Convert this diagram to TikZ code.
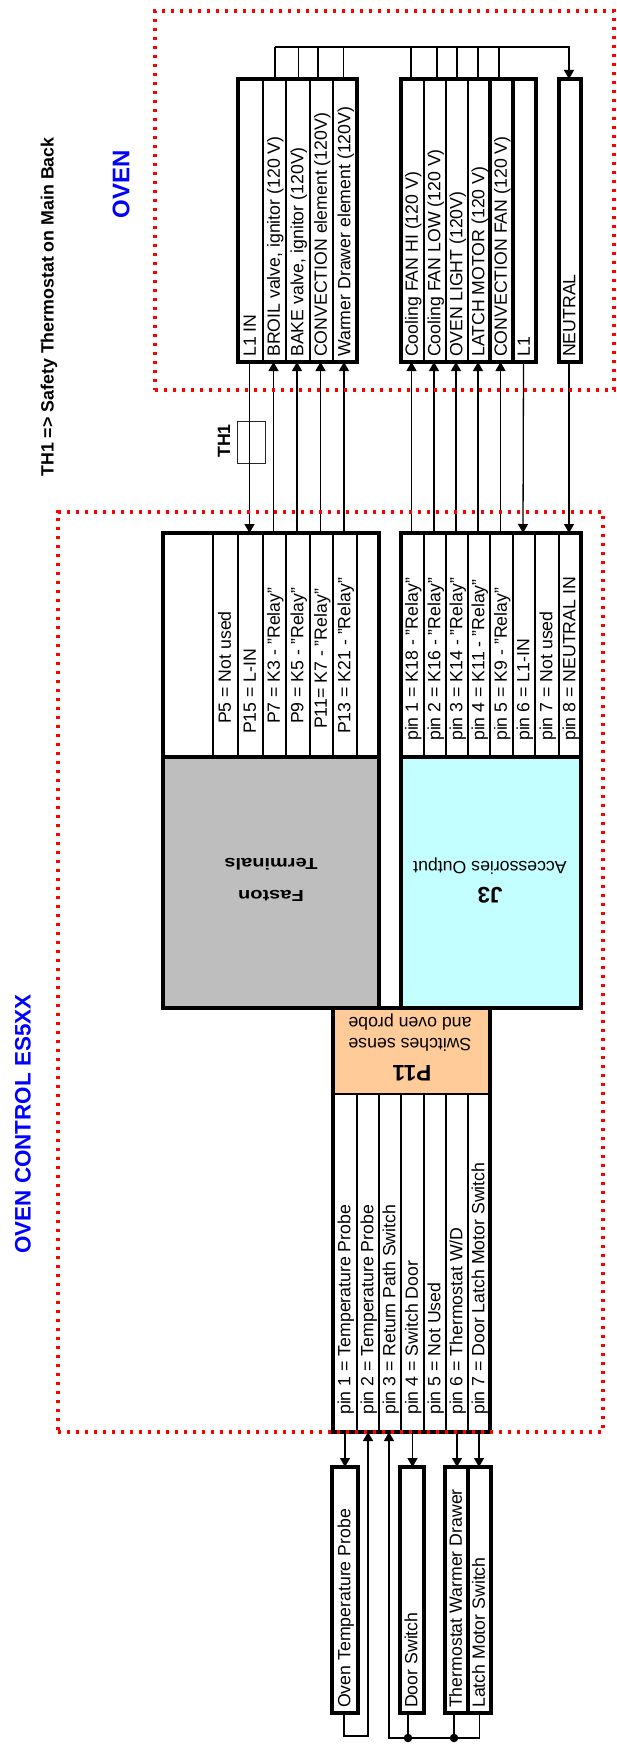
\documentclass[tikz,border=0pt]{standalone}
\usepackage{fontspec}
\setmainfont{Liberation Sans}
\usetikzlibrary{fit,arrows.meta}
\definecolor{fastgray}{HTML}{BEBEBE}
\definecolor{jcyan}{HTML}{C4FFFF}
\definecolor{porange}{HTML}{FFCC99}
\tikzset{
	cell/.style={draw=black,line width=1.5pt,inner sep=0pt,outer sep=0pt},
	frame/.style={draw=black,line width=3.6pt,inner sep=0pt,outer sep=0pt},
	celltext/.style={rotate=90,anchor=west,inner sep=0pt,text height=12.7pt,text depth=0pt,font=\fontsize{17.7}{20}\selectfont},
	headtext/.style={rotate=180,inner sep=0pt,font=\fontsize{17.7}{20}\selectfont},
	headbold/.style={rotate=180,inner sep=0pt,font=\fontsize{22.5}{26}\selectfont\bfseries},
	wire/.style={draw=black,line width=1.3pt},
	jdot/.style={circle,fill=black,inner sep=0pt,minimum size=8.5pt},
	zone/.style={draw=red,line width=3.4pt,dash pattern=on 3.4pt off 5.6pt,inner sep=0pt},
	sidetext/.style={rotate=90,inner sep=0pt,font=\fontsize{17.8}{20}\selectfont\bfseries},
	zonetext/.style={rotate=90,inner sep=0pt,text=blue,font=\fontsize{22.4}{26}\selectfont\bfseries}
}
\newcommand{\rowcells}[3]{%
	\foreach \n/\xa/\xb/\ys/\t in {#3}{
		\node[cell,fit={(\xa,#1) (\xb,#2)}] (\n) {};
		\node[celltext] (\n-t) at ({(\xa+\xb)/2-1},\ys) {\t};
	}
}
\begin{document}
\begin{tikzpicture}[x=1pt,y=-1pt,>={Triangle[length=9pt,width=10pt]},line join=miter]
	\useasboundingbox (0,0) rectangle (616,1745);
	\node[sidetext] (note) at (49,307) {TH1 => Safety Thermostat on Main Back};
	\node[zonetext,font=\fontsize{24}{26}\selectfont\bfseries] (ovenname) at (121,184) {OVEN};
	\node[zonetext] (controlname) at (23,1124) {OVEN CONTROL ES5XX};
	\node[sidetext] (thname) at (224,441) {TH1};
	\node[draw=black!85,line width=.9pt,inner sep=0pt,fit={(237,421) (265,463)}] (thermo) {};
	\rowcells{79}{362}{l1in/238/263/357/L1 IN,
		broil/263/286/357/{BROIL valve, ignitor (120 V)},
		bake/286/310/357/{BAKE valve, ignitor (120V)},
		conv/310/333/357/{CONVECTION element (120V)},
		warm/333/357/357/{Warmer Drawer element (120V)},
		fanhi/401/424/357/{Cooling FAN HI (120 V)},
		fanlo/424/446/357/{Cooling FAN LOW (120 V)},
		light/446/468/357/{OVEN LIGHT (120V)},
		latchm/468/490/357/{LATCH MOTOR (120 V)},
		cfan/490/513/357/{CONVECTION FAN (120 V)},
		lone/513/536/357/L1,
		neutral/559/581/357/NEUTRAL}
	\node[frame,fit={(238,79) (357,362)}] (ovenA) {};
	\node[frame,fit={(401,79) (513,362)}] (ovenB) {};
	\node[frame,fit={(490,79) (536,362)}] (ovenC) {};
	\node[frame,fit={(559,79) (581,362)}] (ovenD) {};
	\rowcells{533}{757}{pa/163/213/724/{},
		pfive/213/238/724/P5 = Not used,
		pfifteen/238/263/734/P15 = L-IN,
		pseven/263/286/724/{P7 = K3 - "Relay"},
		pnine/286/310/724/{P9 = K5 - "Relay"},
		peleven/310/333/729/{P11= K7 - "Relay"},
		pthirteen/333/357/734/{P13 = K21 - "Relay"},
		pz/357/379/724/{},
		jone/401/424/741/{pin 1 = K18 - "Relay"},
		jtwo/424/446/741/{pin 2 = K16 - "Relay"},
		jthree/446/468/741/{pin 3 = K14 - "Relay"},
		jfour/468/490/741/{pin 4 = K11 - "Relay"},
		jfive/490/513/741/{pin 5 = K9 - "Relay"},
		jsix/513/535/741/pin 6 = L1-IN,
		jseven/535/559/741/pin 7 = Not used,
		jeight/559/581/741/pin 8 = NEUTRAL IN}
	\node[frame,fit={(163,533) (379,757)}] (fastontab) {};
	\node[frame,fit={(401,533) (581,757)}] (jtab) {};
	\node[frame,fill=fastgray,fit={(163,757) (379,1008)}] (faston) {};
	\node[frame,fill=jcyan,fit={(401,757) (581,1008)}] (jhead) {};
	\node[cell,fill=porange,fit={(333,1008) (490,1094)}] (phead) {};
	\node[headbold,font=\fontsize{16}{18}\selectfont\bfseries] (fastonA) at (271,896) {\scalebox{1.25}[1]{Faston}};
	\node[headbold,font=\fontsize{16}{18}\selectfont\bfseries] (fastonB) at (271,864) {\scalebox{1.25}[1]{Terminals}};
	\node[headbold] (jname) at (490,895) {J3};
	\node[headtext] (jdesc) at (490,866) {Accessories Output};
	\node[headbold] (pname) at (412,1073) {P11};
	\node[headtext] (pdescA) at (410,1045) {Switches sense};
	\node[headtext] (pdescB) at (410,1022) {and oven probe};
	\rowcells{1094}{1432}{qone/333/357/1415/pin 1 = Temperature Probe,
		qtwo/357/379/1415/pin 2 = Temperature Probe,
		qthree/379/401/1415/pin 3 = Return Path Switch,
		qfour/401/424/1415/pin 4 = Switch Door,
		qfive/424/446/1415/pin 5 = Not Used,
		qsix/446/468/1415/{pin 6 = Thermostat W/D},
		qseven/468/490/1415/pin 7 = Door Latch Motor Switch}
	\node[frame,fit={(333,1008) (490,1432)}] (ptab) {};
	\rowcells{1467}{1713}{probe/332/358/1708/Oven Temperature Probe,
		door/400/424/1708/Door Switch,
		warmsw/445/468/1708/Thermostat Warmer Drawer,
		latchsw/468/491/1708/Latch Motor Switch}
	\node[frame,fit={(332,1467) (358,1713)}] (probeF) {};
	\node[frame,fit={(400,1467) (424,1713)}] (doorF) {};
	\node[frame,fit={(445,1467) (468,1713)}] (warmF) {};
	\node[frame,fit={(468,1467) (491,1713)}] (latchF) {};
	\foreach \a/\b in {broil/pseven,bake/pnine,conv/peleven,warm/pthirteen,fanhi/jone,fanlo/jtwo,light/jthree,latchm/jfour,cfan/jfive}
		\draw[wire,->] ([xshift=-1pt]\b.north) -- ([xshift=-1pt]\a.south);
	\foreach \a/\b in {l1in/pfifteen,lone/jsix,neutral/jeight}
		\draw[wire,->] ([xshift=-1pt]\a.south) -- ([xshift=-1pt]\b.north);
	\coordinate (busL) at (275,47);
	\coordinate (busR) at ([xshift=-1pt]neutral.north |- busL);
	\draw[wire,->] (busL) -- (busR) -- ([xshift=-1pt]neutral.north);
	\foreach \n/\s in {broil/.5,bake/.5,conv/-3.5,warm/-1.5,fanhi/-1.5,fanlo/2,light/0,latchm/-1,cfan/-2.5}
		\draw[wire] ([xshift=\s pt]\n.north) -- ([xshift=\s pt]\n.north |- busL);
	\foreach \a/\b in {qone/probe,qfour/door,qsix/warmsw,qseven/latchsw}
		\draw[wire,->] (\a.south) -- (\a.south |- \b.north);
	\coordinate (loopY) at (0,1736);
	\draw[wire,->] ([xshift=-1pt]probe.south) |- (qtwo.south |- loopY) -- (qtwo.south);
	\node[jdot] (dotA) at (408,1738) {};
	\node[jdot] (dotB) at (454,1738) {};
	\draw[wire] (dotA.center) -- (dotA.center |- door.south);
	\draw[wire] (dotB.center) -- (dotB.center |- warmsw.south);
	\draw[wire,->] (latchsw.south) |- (dotB.center) -- (dotA.center) -| ([xshift=-1pt]qthree.south);
	\node[zone,fit={(155,11) (614,390)}] (ovenzone) {};
	\node[zone,fit={(58,512) (603,1432)}] (controlzone) {};
\end{tikzpicture}
\end{document}
